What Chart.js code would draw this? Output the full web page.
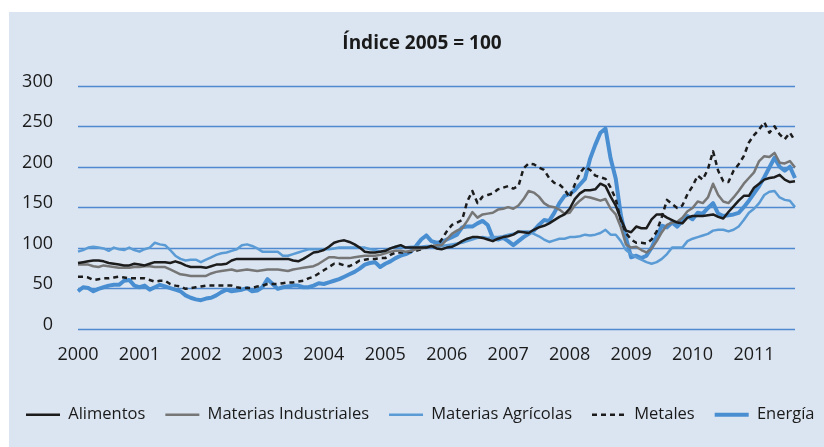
<!DOCTYPE html>
<html lang="es">
<head>
<meta charset="utf-8">
<title>Índice 2005 = 100</title>
<script src="https://cdn.jsdelivr.net/npm/chart.js@4.4.1/dist/chart.umd.min.js"></script>
<style>
  html, body { margin: 0; padding: 0; background: #ffffff; }
  canvas { display: block; }
</style>
</head>
<body>
<canvas id="chart1" width="824" height="447"></canvas>
<script>
// Monthly index values, Jan 2000 - Sep 2011 (2005 = 100)
const yearLabels = ['2000', '2001', '2002', '2003', '2004', '2005', '2006', '2007', '2008', '2009', '2010', '2011'];
const lastYearMonths = 9;
const yTicks = [0, 50, 100, 150, 200, 250, 300];

const alimentos = [
    81, 82, 83, 84, 84, 83, 81, 80, 79, 78, 78, 80,
    79, 78, 80, 82, 82, 82, 81, 83, 81, 78, 76, 76,
    76, 75, 77, 79, 79, 80, 84, 86, 86, 86, 86, 86,
    86, 86, 86, 86, 86, 86, 84, 83, 86, 90, 94, 95,
    97, 101, 106, 108, 109, 107, 104, 100, 95, 94, 94, 95,
    96, 99, 101, 103, 100, 100, 100, 100, 100, 102, 99, 98,
    100, 101, 104, 108, 111, 113, 113, 112, 110, 108, 111, 113,
    114, 116, 120, 119, 118, 122, 125, 127, 130, 134, 138, 141,
    148, 160, 167, 171, 171, 172, 179, 176, 163, 152, 135, 121,
    119, 126, 124, 124, 135, 141, 141, 137, 134, 131, 130, 137,
    139, 139, 139, 140, 141, 138, 136, 144, 151, 158, 164, 164,
    174, 179, 184, 186, 187, 190, 184, 181, 182
];
const industriales = [
    79, 79, 79, 77, 76, 78, 77, 76, 75, 75, 75, 76,
    76, 77, 77, 76, 76, 76, 73, 70, 67, 66, 65, 65,
    65, 65, 68, 70, 71, 72, 73, 71, 72, 73, 72, 71,
    72, 73, 73, 73, 72, 71, 73, 74, 75, 76, 77, 80,
    84, 88, 88, 87, 87, 87, 88, 89, 90, 90, 90, 91,
    93, 95, 96, 96, 95, 96, 98, 99, 100, 101, 103, 103,
    110, 117, 121, 124, 133, 144, 137, 141, 142, 143, 147, 148,
    150, 148, 152, 160, 170, 168, 163, 155, 151, 150, 147, 142,
    143, 152, 158, 163, 162, 160, 158, 160, 148, 141, 125, 104,
    100, 101, 97, 94, 99, 108, 119, 128, 131, 132, 137, 145,
    149, 157, 155, 162, 179, 165, 157, 155, 162, 170, 179, 186,
    193, 207, 213, 212, 217, 205, 204, 207, 199
];
const agricolas = [
    95, 97, 100, 101, 100, 99, 96, 100, 98, 97, 100, 97,
    95, 98, 100, 106, 104, 103, 97, 90, 86, 84, 85, 85,
    82, 85, 88, 91, 93, 94, 96, 98, 103, 104, 102, 99,
    95, 95, 95, 95, 90, 90, 92, 94, 96, 98, 98, 98,
    98, 98, 99, 100, 100, 100, 100, 100, 100, 98, 97, 95,
    96, 99, 101, 101, 100, 101, 101, 101, 102, 102, 101, 102,
    103, 104, 105, 106, 108, 110, 112, 113, 112, 113, 113, 114,
    116, 117, 119, 120, 120, 117, 114, 110, 107, 109, 111, 111,
    113, 113, 114, 116, 115, 116, 118, 122, 116, 116, 108, 97,
    92, 88, 85, 82, 80, 82, 86, 92, 100, 100, 100, 108,
    111, 113, 115, 117, 121, 122, 122, 120, 122, 126, 134, 143,
    148, 155, 165, 169, 170, 162, 159, 158, 150
];
const metales = [
    64, 64, 63, 60, 61, 62, 62, 63, 64, 63, 62, 62,
    62, 62, 60, 58, 59, 59, 55, 53, 52, 49, 50, 51,
    52, 53, 53, 53, 53, 53, 53, 51, 50, 50, 50, 52,
    53, 55, 55, 55, 56, 57, 57, 58, 59, 62, 64, 68,
    72, 76, 80, 80, 78, 77, 80, 84, 85, 86, 86, 87,
    87, 91, 94, 94, 94, 95, 96, 98, 100, 103, 101, 110,
    120, 128, 131, 134, 157, 170, 155, 163, 165, 167, 172, 174,
    176, 173, 176, 198, 204, 203, 199, 196, 186, 180, 178, 172,
    162, 178, 192, 200, 196, 189, 187, 185, 174, 160, 133, 118,
    110, 106, 106, 105, 110, 120, 138, 159, 154, 149, 152, 166,
    176, 189, 184, 197, 219, 195, 182, 181, 195, 203, 213, 230,
    239, 246, 255, 242, 250, 240, 234, 242, 232
];
const energia = [
    46, 51, 50, 46, 49, 51, 53, 54, 54, 59, 60, 53,
    51, 53, 48, 51, 54, 52, 50, 48, 46, 41, 38, 36,
    35, 37, 38, 41, 45, 48, 46, 47, 48, 50, 46, 47,
    51, 61, 55, 49, 51, 52, 53, 53, 51, 51, 53, 56,
    55, 57, 59, 61, 64, 67, 70, 74, 79, 81, 82, 76,
    80, 83, 87, 90, 92, 95, 102, 110, 115, 108, 106, 107,
    110, 113, 116, 125, 126, 126, 130, 133, 128, 112, 110, 112,
    108, 103, 108, 113, 117, 121, 128, 134, 133, 143, 155, 164,
    166, 171, 178, 185, 210, 227, 242, 247, 210, 185, 140, 112,
    88, 90, 87, 90, 100, 114, 127, 125, 131, 126, 133, 139,
    135, 143, 142, 149, 155, 142, 139, 140, 141, 143, 150, 158,
    167, 176, 187, 199, 211, 200, 195, 200, 186
];

// one category per month
const months = [];
yearLabels.forEach((y, i) => {
    const n = (i === yearLabels.length - 1) ? lastYearMonths : 12;
    for (let m = 1; m <= n; m++) {
        months.push(y + '-' + String(m).padStart(2, '0'));
    }
});

// light blue panel behind everything
const panelBackground = {
    id: 'panelBackground',
    beforeDraw(chart) {
        const ctx = chart.ctx;
        ctx.save();
        ctx.fillStyle = '#ffffff';
        ctx.fillRect(0, 0, chart.width, chart.height);
        ctx.fillStyle = '#dbe5f1';
        ctx.fillRect(9, 12, chart.width - 9, chart.height - 12);
        ctx.restore();
    }
};

// horizontal grid lines at the y ticks, behind the series
const yGridLines = {
    id: 'yGridLines',
    beforeDatasetsDraw(chart) {
        const ctx = chart.ctx;
        const area = chart.chartArea;
        const yScale = chart.scales.y;
        ctx.save();
        ctx.strokeStyle = '#4f8ad0';
        ctx.lineWidth = 1.4;
        yTicks.forEach(v => {
            const py = Math.round(yScale.getPixelForValue(v)) + 0.5;
            ctx.beginPath();
            ctx.moveTo(area.left, py);
            ctx.lineTo(area.right, py);
            ctx.stroke();
        });
        ctx.restore();
    }
};

Chart.defaults.font.family = "'Open Sans', sans-serif";
Chart.defaults.color = '#1a1a1a';

let ctx1 = document.getElementById('chart1').getContext('2d');
let chart1 = new Chart(ctx1, {
    type: 'line',
    data: {
        labels: months,
        datasets: [
            {
                label: 'Alimentos',
                data: alimentos,
                borderColor: '#1c1c1c',
                borderWidth: 2.5
            },
            {
                label: 'Materias Industriales',
                data: industriales,
                borderColor: '#767676',
                borderWidth: 2.5
            },
            {
                label: 'Materias Agrícolas',
                data: agricolas,
                borderColor: '#5b9bd5',
                borderWidth: 2.5
            },
            {
                label: 'Metales',
                data: metales,
                borderColor: '#1c1c1c',
                borderWidth: 2.5,
                borderDash: [5, 4]
            },
            {
                label: 'Energía',
                data: energia,
                borderColor: '#4a8ed2',
                borderWidth: 4
            }
        ]
    },
    options: {
        responsive: false,
        animation: false,
        layout: {
            padding: { left: 6, right: -14, top: 0, bottom: 14 }
        },
        elements: {
            point: { radius: 0 },
            line: { tension: 0, fill: false, borderJoinStyle: 'round' }
        },
        scales: {
            x: {
                grid: { display: false },
                border: { display: false },
                ticks: {
                    autoSkip: false,
                    maxRotation: 0,
                    padding: 8,
                    font: { size: 18 },
                    callback: function (val, idx) {
                        return idx % 12 === 0 ? yearLabels[idx / 12] : '';
                    }
                },
                afterFit: function (scale) { scale.height = 58; }
            },
            y: {
                min: yTicks[0],
                max: yTicks[yTicks.length - 1],
                grid: { display: false },
                border: { display: false },
                ticks: {
                    stepSize: yTicks[1] - yTicks[0],
                    padding: 17,
                    labelOffset: -4,
                    font: { size: 18 }
                },
                afterFit: function (scale) { scale.width = 72; }
            },
            yR: {
                type: 'linear',
                position: 'right',
                display: true,
                grid: { display: false },
                border: { display: false },
                ticks: { display: false },
                afterFit: function (scale) { scale.width = 43; }
            }
        },
        plugins: {
            title: {
                display: true,
                text: 'Índice 2005 = 100',
                color: '#1a1a1a',
                font: { size: 19, weight: 'bold' },
                padding: { top: 32, bottom: 31 }
            },
            legend: {
                position: 'bottom',
                align: 'start',
                labels: {
                    usePointStyle: true,
                    pointStyle: 'line',
                    pointStyleWidth: 34,
                    padding: 20,
                    color: '#1a1a1a',
                    font: { size: 16.5 },
                    generateLabels: function (chart) {
                        const items = Chart.defaults.plugins.legend.labels.generateLabels(chart);
                        items.forEach(item => {
                            const ds = chart.data.datasets[item.datasetIndex];
                            item.lineDash = ds.borderDash || [];
                            item.lineWidth = ds.borderWidth;
                            item.strokeStyle = ds.borderColor;
                        });
                        return items;
                    }
                }
            },
            tooltip: { enabled: false }
        }
    },
    plugins: [panelBackground, yGridLines]
});
</script>
</body>
</html>
